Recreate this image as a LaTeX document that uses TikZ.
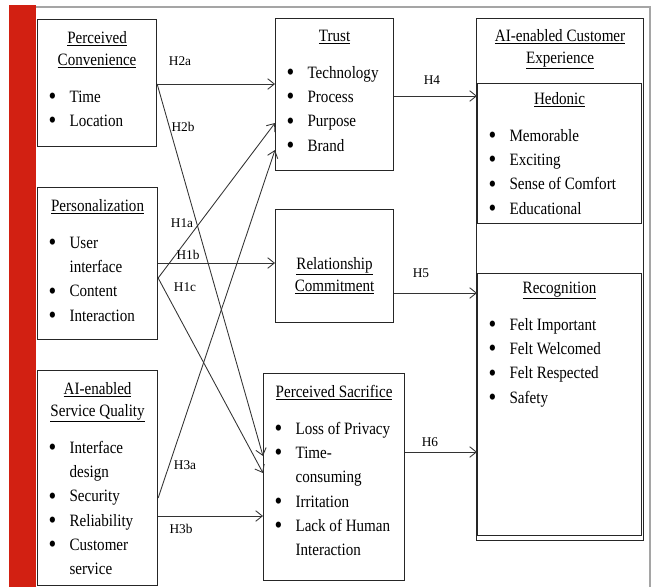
\documentclass[tikz,border=0pt]{standalone}
\usepackage{fontspec}
\setmainfont{Liberation Serif}[FakeStretch=0.87]
\newfontfamily\lblfont{Liberation Serif}
\usetikzlibrary{arrows.meta,calc}
\definecolor{barred}{RGB}{210,32,18}
\definecolor{framegray}{RGB}{165,165,165}
\newcommand{\px}[1]{\dimexpr #1pt*3/4\relax}
\newcommand{\dotmark}{\raisebox{-1.7pt}{\fontsize{19}{19}\selectfont\textbullet}}
\newcommand{\itm}[1]{\par\hangindent=\px{32}\hangafter=1\noindent
  \makebox[\px{32}][l]{\hspace{\px{11}}\dotmark}#1}
\newcommand{\panel}[5]{%
  \begin{minipage}[t][\px{#2}][t]{\px{#1}}
  \fontsize{13}{16.5}\selectfont\centering
  \rule{0pt}{\px{#3}}#4\par
  \baselineskip=18.2pt\vspace{9.8pt}\raggedright #5
  \end{minipage}}
\tikzset{
    > = {Straight Barb[length=5pt,width=8pt]},
    box/.style = {draw=black!85, line width=0.85pt, inner sep=0pt,
                  anchor=north west, text=black},
    link/.style = {->, draw=black!80, line width=0.65pt},
    hyp/.style = {font=\lblfont\fontsize{10}{12}\selectfont,
                  text=black, inner sep=0pt}
}
\begin{document}
\begin{tikzpicture}[x=0.75pt, y=-0.75pt]
    \useasboundingbox (0,0) rectangle (652,587);
    \fill[barred] (9,5) rectangle (36,587);
    \draw[framegray, line width=1.1pt] (36,7) -- (650,7) -- (650,587);

    \node[box] (pc) at (37,19) {\panel{119}{127}{23.5}%
        {\underline{Perceived}\\\underline{Convenience}}%
        {\itm{Time}\itm{Location}}};
    \node[box] (pers) at (37,187) {\panel{120}{152}{23.5}%
        {\underline{Personalization}}%
        {\itm{User\newline interface}\itm{Content}\itm{Interaction}}};
    \node[box] (aisq) at (37,370) {\panel{120}{215}{23.5}%
        {\underline{AI-enabled}\\\underline{Service Quality}}%
        {\itm{Interface\newline design}\itm{Security}\itm{Reliability}\itm{Customer\newline service}}};
    \node[box] (trust) at (275,18) {\panel{118}{152}{22.5}%
        {\underline{Trust}}%
        {\itm{Technology}\itm{Process}\itm{Purpose}\itm{Brand}}};
    \node[box] (rc) at (275,209) {\panel{118}{113}{59.5}%
        {\underline{Relationship}\\\underline{Commitment}}{}};
    \node[box] (ps) at (263,373) {\panel{141}{207}{23.5}%
        {\underline{Perceived Sacrifice}}%
        {\itm{Loss of Privacy}\itm{Time-\newline consuming}\itm{Irritation}\itm{Lack of Human\newline Interaction}}};
    \node[box] (ce) at (476,18) {\panel{167}{522}{22.5}%
        {\underline{AI-enabled Customer}\\\underline{Experience}}{}};
    \node[box] (hed) at (477,83) {\panel{164}{140}{20.5}%
        {\underline{Hedonic}}%
        {\itm{Memorable}\itm{Exciting}\itm{Sense of Comfort}\itm{Educational}}};
    \node[box] (rec) at (477,273) {\panel{164}{262}{19.5}%
        {\underline{Recognition}}%
        {\itm{Felt Important}\itm{Felt Welcomed}\itm{Felt Respected}\itm{Safety}}};

    \draw[link] ($(pc.north east)+(0,65)$) -- ($(trust.north west)+(0,66)$);
    \draw[link] ($(pc.north east)+(0,65)$) -- ($(ps.north west)+(0,83)$);
    \draw[link] ($(pers.north east)+(0,91)$) -- ($(trust.north west)+(0,105)$);
    \draw[link] ($(pers.north east)+(0,76)$) -- ($(rc.north west)+(0,54)$);
    \draw[link] ($(pers.north east)+(0,91)$) -- ($(ps.north west)+(0,100)$);
    \draw[link] ($(aisq.north east)+(0,128)$) -- ($(trust.north west)+(0,132)$);
    \draw[link] ($(aisq.north east)+(0,146)$) -- ($(ps.north west)+(0,143)$);
    \draw[link] ($(trust.north east)+(0,78)$) -- ($(hed.north west)+(0,13)$);
    \draw[link] ($(rc.north east)+(0,84)$) -- ($(rec.north west)+(0,20)$);
    \draw[link] ($(ps.north east)+(0,79)$) -- ($(rec.north west)+(0,179)$);

    \node[hyp] (h2a) at (180,61) {H2a};
    \node[hyp] (h2b) at (183,127) {H2b};
    \node[hyp] (h1a) at (182,223) {H1a};
    \node[hyp] (h1b) at (188,255) {H1b};
    \node[hyp] (h1c) at (185,287) {H1c};
    \node[hyp] (h3a) at (185,465) {H3a};
    \node[hyp] (h3b) at (181,529) {H3b};
    \node[hyp] (h4) at (432,80) {H4};
    \node[hyp] (h5) at (421,273) {H5};
    \node[hyp] (h6) at (430,442) {H6};
\end{tikzpicture}
\end{document}
